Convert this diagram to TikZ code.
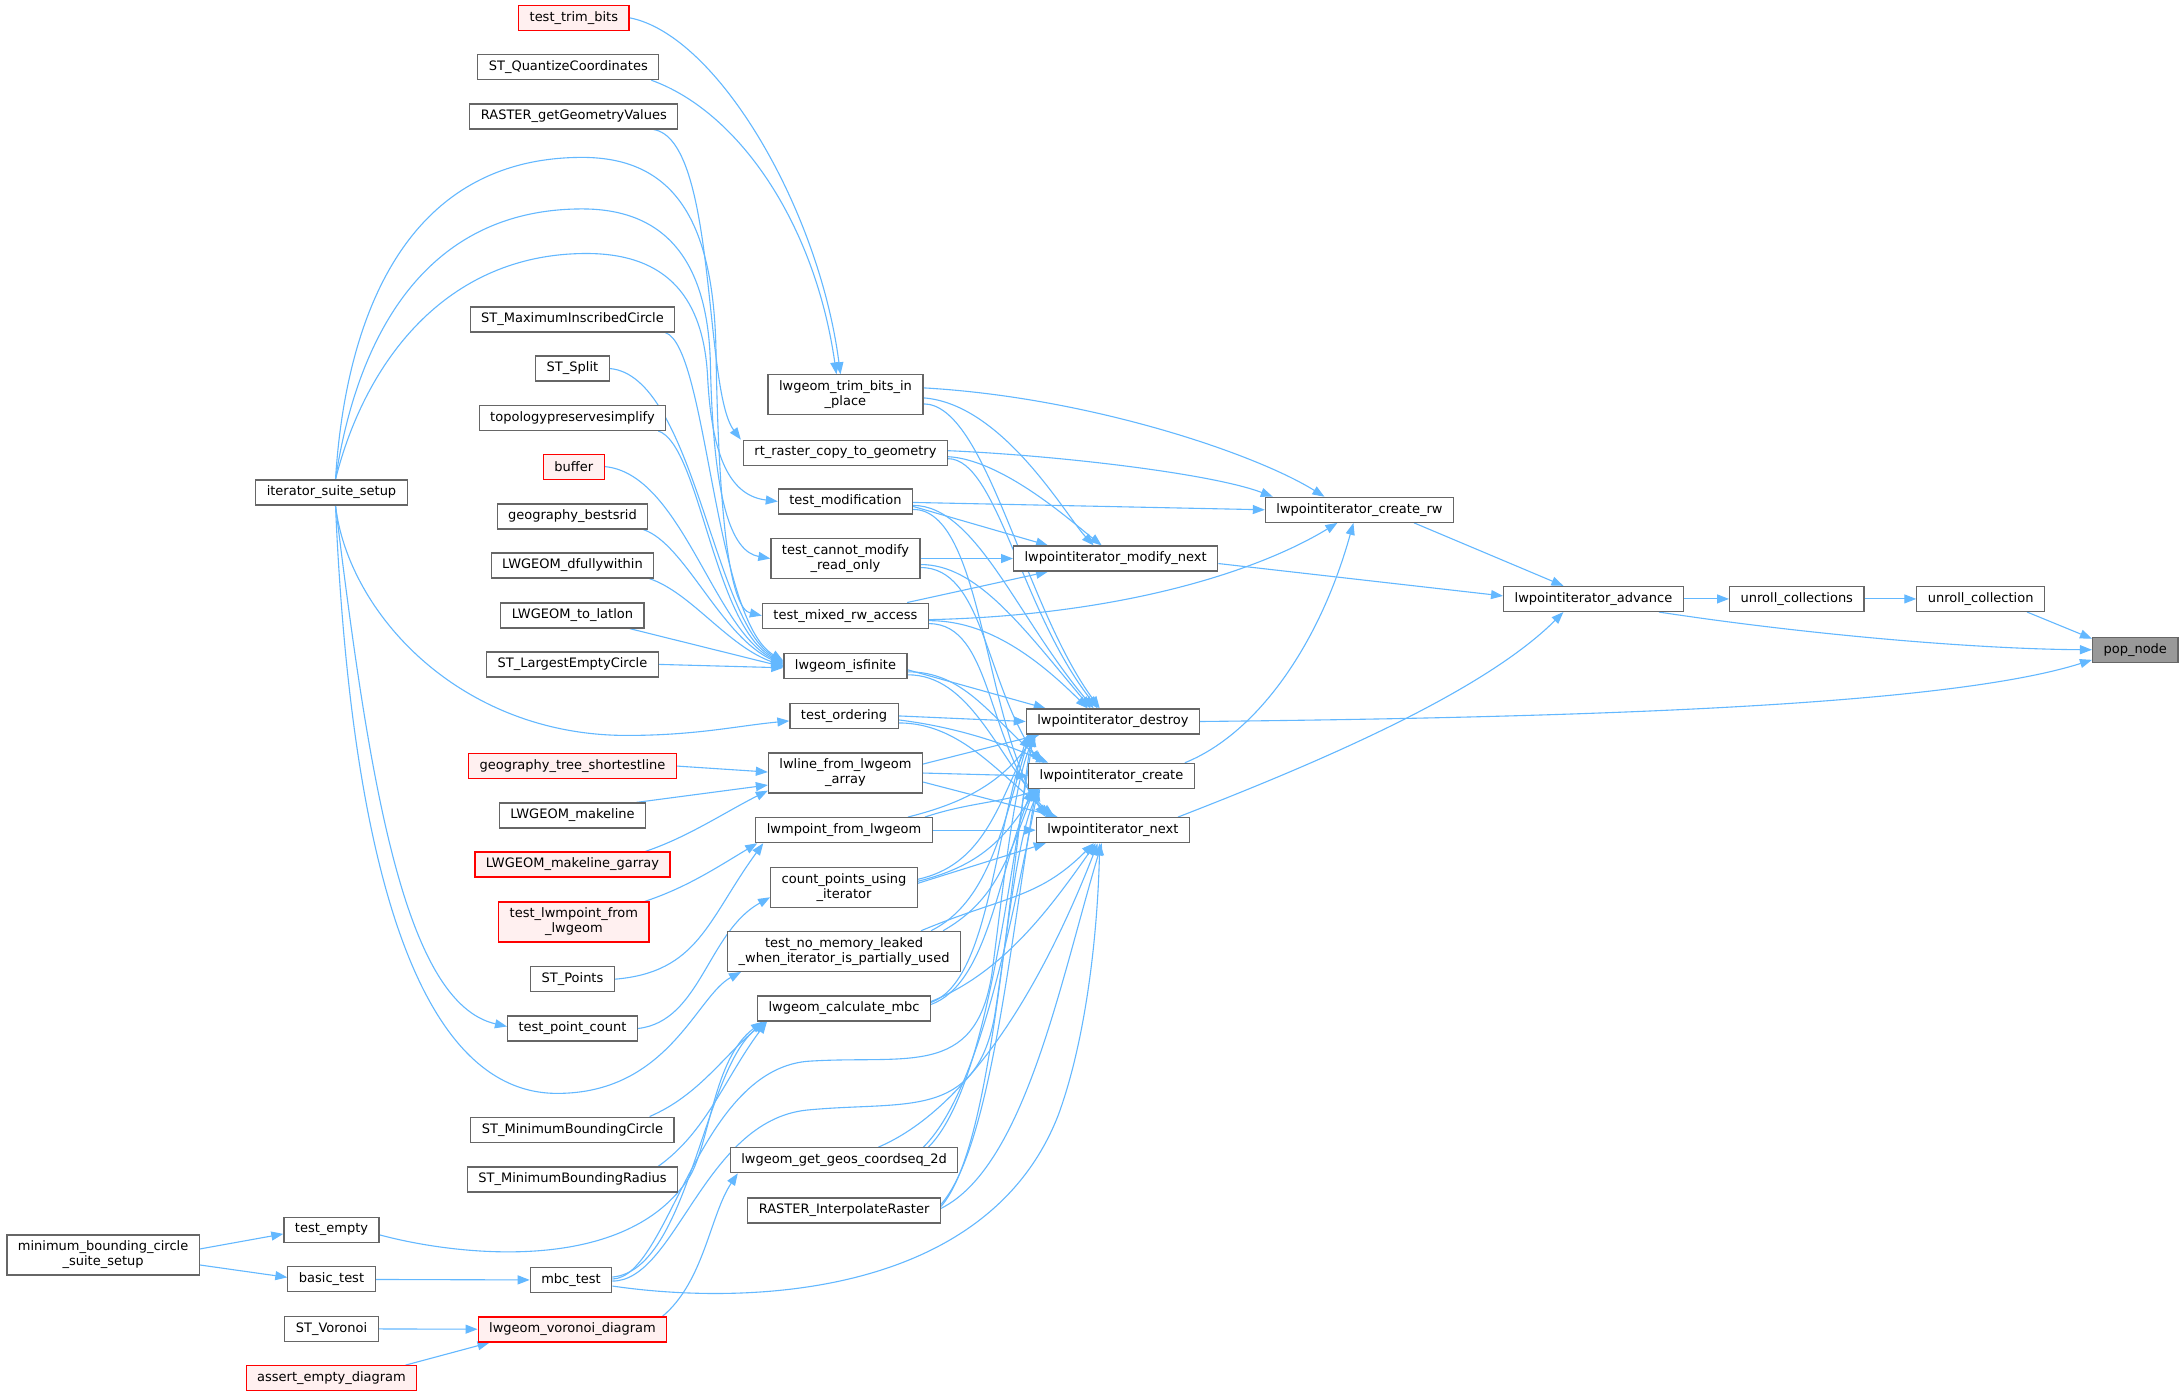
\documentclass[tikz,border=0pt]{standalone}
\usepackage{fontspec}
\setmainfont{DejaVu Sans}
\usetikzlibrary{arrows.meta,backgrounds}
\definecolor{edgeblue}{HTML}{63B8FF}
\definecolor{boxgray}{HTML}{666666}
\definecolor{popgray}{HTML}{999999}
\definecolor{redline}{HTML}{FF0000}
\definecolor{pinkfill}{HTML}{FFF0F0}
\newcommand\nodefont{\fontsize{13bp}{15bp}\selectfont}
\tikzset{
  box/.style={draw=boxgray, fill=white, line width=1.2bp, inner xsep=11bp, inner ysep=0bp,
    minimum height=25bp, font=\nodefont, align=center, text=black},
  boxtwo/.style={box, minimum height=40bp},
  redbox/.style={box, draw=redline, fill=pinkfill},
  redboxtwo/.style={boxtwo, draw=redline, fill=pinkfill},
  popbox/.style={box, fill=popgray},
  e/.style={draw=edgeblue, line width=1.1bp, -{Triangle[length=12bp,width=9bp]}}
}
\begin{document}
\begin{tikzpicture}[x=1.3929bp,y=1.3929bp]
\useasboundingbox (0,0) rectangle (1568,-1002);
% ---------- nodes ----------
\node[popbox] (pop) at (1533,-466.5) {pop\_node};
\node[box] (unrollc) at (1422,-430) {unroll\_collection};
\node[box] (unrollcs) at (1290,-430) {unroll\_collections};
\node[box] (advance) at (1144,-430) {lwpointiterator\_advance};
\node[box] (createrw) at (976,-366) {lwpointiterator\_create\_rw};
\node[box] (modnext) at (801,-401) {lwpointiterator\_modify\_next};
\node[box] (destroy) at (799,-518) {lwpointiterator\_destroy};
\node[box] (create) at (798,-557) {lwpointiterator\_create};
\node[box] (next) at (799,-596) {lwpointiterator\_next};

\node[boxtwo] (trim) at (607,-283.5) {lwgeom\_trim\_bits\_in\\\_place};
\node[box] (rtraster) at (607,-325) {rt\_raster\_copy\_to\_geometry};
\node[box] (testmod) at (607,-360) {test\_modification};
\node[boxtwo] (testcannot) at (607,-401) {test\_cannot\_modify\\\_read\_only};
\node[box] (testmixed) at (607,-442) {test\_mixed\_rw\_access};
\node[box] (isfinite) at (607,-478) {lwgeom\_isfinite};
\node[box] (testordering) at (606,-514) {test\_ordering};
\node[boxtwo] (lwline) at (607,-555) {lwline\_from\_lwgeom\\\_array};
\node[box] (lwmpoint) at (606,-596) {lwmpoint\_from\_lwgeom};
\node[boxtwo] (countpts) at (606,-637) {count\_points\_using\\\_iterator};
\node[boxtwo] (testnomem) at (606,-683) {test\_no\_memory\_leaked\\\_when\_iterator\_is\_partially\_used};
\node[box] (calcmbc) at (606,-724) {lwgeom\_calculate\_mbc};
\node[box] (geoscoord) at (606,-833) {lwgeom\_get\_geos\_coordseq\_2d};
\node[box] (interp) at (606,-869) {RASTER\_InterpolateRaster};

\node[redbox] (testtrimbits) at (412,-12.8) {test\_trim\_bits};
\node[box] (stquant) at (408,-48.2) {ST\_QuantizeCoordinates};
\node[box] (rastergeom) at (412,-83.6) {RASTER\_getGeometryValues};
\node[box] (stmaxinsc) at (411,-229.4) {ST\_MaximumInscribedCircle};
\node[box] (stsplit) at (411,-264.6) {ST\_Split};
\node[box] (topo) at (411,-300) {topologypreservesimplify};
\node[redbox] (buffer) at (412,-335) {buffer};
\node[box] (geobest) at (411,-370.8) {geography\_bestsrid};
\node[box] (dfully) at (411,-406) {LWGEOM\_dfullywithin};
\node[box] (tolatlon) at (411,-441.9) {LWGEOM\_to\_latlon};
\node[box] (stlargest) at (411,-477) {ST\_LargestEmptyCircle};
\node[redbox] (geotree) at (411,-550) {geography\_tree\_shortestline};
\node[box] (makeline) at (411,-585.5) {LWGEOM\_makeline};
\node[redbox] (makelinegarray) at (411,-620.6) {LWGEOM\_makeline\_garray};
\node[redboxtwo] (testlwmpoint) at (412,-662) {test\_lwmpoint\_from\\\_lwgeom};
\node[box] (stpoints) at (411,-703) {ST\_Points};
\node[box] (testpointcount) at (411,-738.4) {test\_point\_count};
\node[box] (stminbc) at (411,-811) {ST\_MinimumBoundingCircle};
\node[box] (stminbr) at (411,-846.8) {ST\_MinimumBoundingRadius};
\node[box] (mbctest) at (410,-919) {mbc\_test};
\node[redbox] (voronoi) at (411,-954.5) {lwgeom\_voronoi\_diagram};

\node[box] (itersuite) at (238,-353.6) {iterator\_suite\_setup};
\node[box] (testempty) at (238,-883) {test\_empty};
\node[box] (basictest) at (238,-918.5) {basic\_test};
\node[box] (stvoronoi) at (238,-954) {ST\_Voronoi};
\node[redbox] (assertempty) at (238,-989.5) {assert\_empty\_diagram};
\node[boxtwo] (mbcsuite) at (74,-901) {minimum\_bounding\_circle\\\_suite\_setup};

% ---------- edges ----------
\begin{scope}[on background layer]
\fill[white] (0,0) rectangle (1568,-1002);
% right part
\draw[e] ([xshift=-18bp]unrollc.south east) -- ([yshift=-2bp]pop.north west);
\draw[e] ([xshift=-25bp]advance.south east) .. controls (1300,-456) and (1420,-466) .. (pop.west);
\draw[e] (destroy.east) .. controls (1150,-515) and (1400,-506) .. ([yshift=3bp]pop.south west);
\draw[e] (unrollcs) -- (unrollc);
\draw[e] (advance) -- (unrollcs);
\draw[e] ([xshift=-40bp]createrw.south east) -- ([xshift=-30bp]advance.north);
\draw[e] ([yshift=-5bp]modnext.east) -- ([yshift=3bp]advance.west);
\draw[e] ([xshift=-12bp]next.north east) .. controls +(90,35) and +(-60,-60) .. ([xshift=-30bp]advance.south);
\draw[e] ([xshift=-10bp]create.north east) .. controls +(50,20) and +(-25,-90) .. ([xshift=-6bp]createrw.south);
% into create_rw
\draw[e] ([yshift=7bp]trim.east) .. controls (780,-285) and (900,-325) .. ([xshift=-35bp]createrw.north);
\draw[e] ([yshift=2bp]rtraster.east) .. controls (760,-327) and (870,-340) .. ([xshift=8bp]createrw.north west);
\draw[e] ([yshift=-1bp]testmod.east) -- (createrw.west);
\draw[e] ([yshift=-4bp]testmixed.east) .. controls (800,-442) and (900,-412) .. ([xshift=-22bp]createrw.south);
% into modify_next
\draw[e] ([yshift=-3bp]trim.east) .. controls (720,-290) and (765,-370) .. ([xshift=-22bp]modnext.north);
\draw[e] ([yshift=-4bp]rtraster.east) .. controls (720,-330) and (770,-375) .. ([xshift=-14bp]modnext.north);
\draw[e] ([yshift=-5bp]testmod.east) -- ([xshift=35bp]modnext.north west);
\draw[e] (testcannot.east) -- (modnext.west);
\draw[e] ([xshift=-22bp]testmixed.north east) -- ([xshift=35bp]modnext.south west);
% into destroy from above
\draw[e] ([yshift=-9bp]trim.east) .. controls +(45,0) and +(-55,75) .. ([xshift=74bp]destroy.north west);
\draw[e] ([yshift=-6bp]rtraster.east) .. controls +(35,0) and +(-55,70) .. ([xshift=72bp]destroy.north west);
\draw[e] ([yshift=-4bp]testmod.east) .. controls +(45,0) and +(-55,65) .. ([xshift=68bp]destroy.north west);
\draw[e] ([yshift=-6bp]testcannot.east) .. controls +(40,0) and +(-50,60) .. ([xshift=65bp]destroy.north west);
\draw[e] ([yshift=-5bp]testmixed.east) .. controls +(35,0) and +(-45,45) .. ([xshift=62bp]destroy.north west);
\draw[e] ([yshift=-4bp]isfinite.east) -- ([xshift=20bp]destroy.north west);
\draw[e] (testordering.east) -- (destroy.west);
% into create from above
\draw[e] ([yshift=-9bp]testcannot.east) .. controls +(45,0) and +(-40,60) .. ([xshift=12bp]create.north west);
\draw[e] ([yshift=-6bp]isfinite.east) .. controls +(40,0) and +(-40,35) .. ([xshift=16bp]create.north west);
\draw[e] ([yshift=-4bp]testordering.east) .. controls +(40,-5) and +(-35,15) .. ([xshift=20bp]create.north west);
% into next from above
\draw[e] ([yshift=-8bp]testmod.east) .. controls +(50,0) and +(-45,70) .. ([xshift=10bp]next.north west);
\draw[e] ([yshift=-8bp]testmixed.east) .. controls +(45,0) and +(-45,55) .. ([xshift=13bp]next.north west);
\draw[e] ([yshift=-9bp]isfinite.east) .. controls +(45,0) and +(-40,45) .. ([xshift=16bp]next.north west);
\draw[e] ([yshift=-7bp]testordering.east) .. controls +(45,0) and +(-40,30) .. ([xshift=19bp]next.north west);
\draw[e] ([yshift=-9bp]lwline.east) -- ([xshift=22bp]next.north west);
% lwline / lwmpoint
\draw[e] (lwline.east) -- (create.west);
\draw[e] ([yshift=9bp]lwline.east) -- ([xshift=14bp]destroy.south west);
\draw[e] (lwmpoint.east) -- (next.west);
\draw[e] ([xshift=-8bp]lwmpoint.north east) .. controls +(30,10) and +(-30,-10) .. ([xshift=12bp]create.south west);
\draw[e] ([xshift=-25bp]lwmpoint.north east) .. controls +(40,10) and +(-25,-35) .. ([xshift=10bp]destroy.south west);
% count_points
\draw[e] ([yshift=8bp]countpts.east) .. controls +(45,10) and +(-25,-55) .. ([xshift=6bp]destroy.south west);
\draw[e] ([yshift=6bp]countpts.east) .. controls +(40,10) and +(-25,-40) .. ([xshift=8bp]create.south west);
\draw[e] ([yshift=4bp]countpts.east) -- ([xshift=10bp]next.south west);
% test_no_memory
\draw[e] ([xshift=-30bp]testnomem.north east) .. controls +(40,20) and +(-20,-70) .. ([xshift=4bp]destroy.south west);
\draw[e] ([xshift=-18bp]testnomem.north east) .. controls +(35,20) and +(-20,-55) .. ([xshift=6bp]create.south west);
\draw[e] ([xshift=-40bp]testnomem.north east) .. controls +(60,25) and +(-40,-40) .. ([xshift=58bp]next.south west);
% calculate_mbc
\draw[e] ([yshift=6bp]calcmbc.east) .. controls +(40,15) and +(-25,-80) .. ([xshift=2bp]destroy.south west);
\draw[e] ([yshift=4bp]calcmbc.east) .. controls +(40,15) and +(-25,-65) .. ([xshift=4bp]create.south west);
\draw[e] ([yshift=7bp]calcmbc.east) .. controls +(50,20) and +(-35,-50) .. ([xshift=60bp]next.south west);
% geos coordseq
\draw[e] ([xshift=-30bp]geoscoord.north east) .. controls +(40,40) and +(-20,-120) .. ([xshift=8bp]destroy.south west);
\draw[e] ([xshift=-35bp]geoscoord.north east) .. controls +(40,40) and +(-20,-100) .. ([xshift=10bp]create.south west);
\draw[e] ([xshift=-80bp]geoscoord.north east) .. controls +(70,30) and +(-35,-90) .. ([xshift=62bp]next.south west);
% interpolate raster
\draw[e] ([yshift=4bp]interp.east) .. controls +(35,40) and +(-20,-140) .. ([xshift=6bp]destroy.south west);
\draw[e] ([yshift=6bp]interp.east) .. controls +(35,40) and +(-20,-120) .. ([xshift=8bp]create.south west);
\draw[e] ([yshift=2bp]interp.east) .. controls +(60,30) and +(-30,-100) .. ([xshift=66bp]next.south west);
% mbc_test
\draw[e] ([yshift=3bp]mbctest.east) .. controls (495,-912) and (505,-765) .. ([xshift=10bp]calcmbc.south west);
\draw[e] ([yshift=1bp]mbctest.east) .. controls (480,-917) and (500,-770) .. (579,-762) .. controls (650,-757) and (700,-775) .. (712,-700) .. controls (720,-640) and (728,-560) .. ([xshift=10bp]destroy.south west);
\draw[e] ([yshift=-1bp]mbctest.east) .. controls (485,-920) and (505,-805) .. (579,-797) .. controls (650,-790) and (700,-805) .. (714,-730) .. controls (722,-680) and (730,-600) .. ([xshift=12bp]create.south west);
\draw[e] ([yshift=-6bp]mbctest.east) .. controls (540,-938) and (710,-930) .. (760,-800) .. controls (780,-745) and (788,-670) .. ([xshift=64bp]next.south west);
% lower left to level 3
\draw[e] ([yshift=-5bp]testempty.east) .. controls (330,-902) and (450,-915) .. (495,-845) .. controls (510,-820) and (512,-760) .. ([xshift=6bp]calcmbc.south west);
\draw[e] ([xshift=-25bp]stminbc.north east) .. controls +(35,15) and +(-30,-25) .. ([xshift=8bp]calcmbc.south west);
\draw[e] ([xshift=-20bp]stminbr.north east) .. controls +(35,25) and +(-30,-40) .. ([xshift=10bp]calcmbc.south west);
\draw[e] ([xshift=-5bp]voronoi.north east) .. controls +(30,25) and +(-20,-30) .. ([xshift=8bp]geoscoord.south west);
% level 2 to isfinite
\draw[e] ([xshift=-10bp]stmaxinsc.south east) .. controls +(30,-10) and +(-50,30) .. ([yshift=5bp]isfinite.west);
\draw[e] (stsplit.east) .. controls +(60,-5) and +(-50,28) .. ([yshift=4bp]isfinite.west);
\draw[e] ([xshift=-8bp]topo.south east) .. controls +(30,-10) and +(-50,26) .. ([yshift=3bp]isfinite.west);
\draw[e] (buffer.east) .. controls +(55,-5) and +(-50,24) .. ([yshift=2bp]isfinite.west);
\draw[e] ([xshift=-5bp]geobest.south east) .. controls +(30,-10) and +(-45,20) .. ([yshift=1bp]isfinite.west);
\draw[e] ([xshift=-5bp]dfully.south east) .. controls +(30,-10) and +(-40,14) .. ([yshift=0bp]isfinite.west);
\draw[e] ([xshift=-15bp]tolatlon.south east) -- ([yshift=-1bp]isfinite.west);
\draw[e] (stlargest.east) -- ([yshift=-2bp]isfinite.west);
% top
\draw[e] ([xshift=-25bp]rastergeom.south east) .. controls (515,-100) and (505,-280) .. ([xshift=-2bp]rtraster.north west);
\draw[e] (testtrimbits.east) .. controls (515,-25) and (588,-150) .. ([xshift=-5bp]trim.north);
\draw[e] ([xshift=-8bp]stquant.south east) .. controls (530,-80) and (585,-160) .. ([xshift=-9bp]trim.north);
% to lwline / lwmpoint / countpts
\draw[e] (geotree.east) -- ([yshift=1bp]lwline.west);
\draw[e] ([xshift=-10bp]makeline.north east) -- ([yshift=-12bp]lwline.west);
\draw[e] ([xshift=-25bp]makelinegarray.north east) .. controls +(30,10) and +(-30,-15) .. ([yshift=3bp]lwline.south west);
\draw[e] ([xshift=-5bp]testlwmpoint.north east) .. controls +(30,10) and +(-30,-18) .. ([xshift=2bp]lwmpoint.south west);
\draw[e] (stpoints.east) .. controls +(60,5) and +(-40,-55) .. ([xshift=8bp]lwmpoint.south west);
\draw[e] (testpointcount.east) .. controls +(45,5) and +(-45,-25) .. ([yshift=-10bp]countpts.west);
% iterator_suite_setup
\draw[e] ([xshift=4bp]itersuite.north) .. controls (262,-260) and (320,-182) .. (421,-182) .. controls (480,-182) and (505,-215) .. (508,-270) .. controls (511,-330) and (525,-356) .. (testmod.west);
\draw[e] ([xshift=4bp]itersuite.north) .. controls (255,-250) and (300,-150) .. (418,-150) .. controls (480,-150) and (508,-190) .. (510,-260) .. controls (512,-360) and (525,-396) .. (testcannot.west);
\draw[e] ([xshift=4bp]itersuite.north) .. controls (248,-230) and (290,-113) .. (418,-113) .. controls (485,-113) and (512,-160) .. (514,-250) .. controls (516,-380) and (525,-437) .. (testmixed.west);
\draw[e] ([xshift=4bp]itersuite.south) .. controls (250,-440) and (330,-528) .. (450,-528) .. controls (500,-528) and (530,-521) .. ([yshift=-5bp]testordering.west);
\draw[e] ([xshift=4bp]itersuite.south) .. controls (265,-560) and (290,-720) .. ([yshift=2bp]testpointcount.west);
\draw[e] ([xshift=4bp]itersuite.south) .. controls (252,-620) and (300,-785) .. (400,-785) .. controls (480,-785) and (500,-715) .. ([xshift=14bp]testnomem.south west);
% lower left
\draw[e] ([yshift=6bp]mbcsuite.east) -- ([yshift=-4bp]testempty.west);
\draw[e] ([yshift=-10bp]mbcsuite.east) -- ([yshift=2bp]basictest.west);
\draw[e] (basictest) -- (mbctest);
\draw[e] (stvoronoi) -- (voronoi);
\draw[e] ([xshift=-12bp]assertempty.north east) -- ([xshift=12bp]voronoi.south west);
\end{scope}
\end{tikzpicture}
\end{document}
